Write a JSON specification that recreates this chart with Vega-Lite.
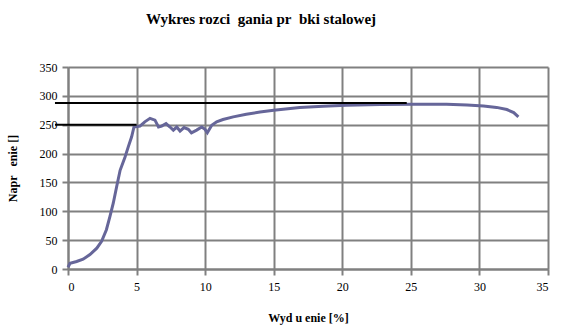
{
  "$schema": "https://vega.github.io/schema/vega-lite/v6.json",
  "width": 480,
  "height": 202,
  "autosize": {"type": "none"},
  "padding": {"left": 68, "top": 67, "right": 23, "bottom": 65},
  "background": "white",
  "title": {
    "text": "Wykres rozci\u00a0\u00a0gania pr\u00a0\u00a0bki stalowej",
    "font": "Liberation Serif, Times New Roman, serif",
    "fontSize": 15,
    "fontWeight": "bold",
    "color": "black",
    "anchor": "middle",
    "frame": "group",
    "dx": -47,
    "offset": 34
  },
  "config": {
    "font": "Liberation Serif, Times New Roman, serif",
    "view": {"stroke": null},
    "axis": {
      "labelFont": "Liberation Serif, Times New Roman, serif",
      "labelFontSize": 12,
      "labelColor": "black",
      "titleFont": "Liberation Serif, Times New Roman, serif",
      "titleFontSize": 12,
      "titleFontWeight": "bold",
      "titleColor": "black",
      "gridColor": "#808080",
      "gridWidth": 2,
      "gridOpacity": 1,
      "domainColor": "#808080",
      "domainWidth": 2,
      "tickColor": "#808080",
      "tickWidth": 2,
      "tickSize": 6,
      "labelOverlap": false
    }
  },
  "datasets": {
    "curve": [
      {"i": 0, "x": 0.0, "y": 3},
      {"i": 1, "x": 0.15, "y": 10},
      {"i": 2, "x": 0.63, "y": 13},
      {"i": 3, "x": 1.1, "y": 17},
      {"i": 4, "x": 1.6, "y": 25},
      {"i": 5, "x": 2.1, "y": 36},
      {"i": 6, "x": 2.45, "y": 48},
      {"i": 7, "x": 2.8, "y": 68},
      {"i": 8, "x": 3.06, "y": 91},
      {"i": 9, "x": 3.3, "y": 114},
      {"i": 10, "x": 3.55, "y": 143},
      {"i": 11, "x": 3.8, "y": 171},
      {"i": 12, "x": 4.16, "y": 194},
      {"i": 13, "x": 4.4, "y": 212},
      {"i": 14, "x": 4.64, "y": 229},
      {"i": 15, "x": 4.81, "y": 246},
      {"i": 16, "x": 5.25, "y": 247.5},
      {"i": 17, "x": 5.6, "y": 255},
      {"i": 18, "x": 5.98, "y": 261},
      {"i": 19, "x": 6.34, "y": 258},
      {"i": 20, "x": 6.6, "y": 246},
      {"i": 21, "x": 6.83, "y": 247.5},
      {"i": 22, "x": 7.15, "y": 252},
      {"i": 23, "x": 7.44, "y": 246},
      {"i": 24, "x": 7.68, "y": 240.6},
      {"i": 25, "x": 7.93, "y": 246},
      {"i": 26, "x": 8.17, "y": 239},
      {"i": 27, "x": 8.46, "y": 245},
      {"i": 28, "x": 8.77, "y": 242},
      {"i": 29, "x": 9.0, "y": 236},
      {"i": 30, "x": 9.38, "y": 240.6},
      {"i": 31, "x": 9.75, "y": 246},
      {"i": 32, "x": 9.99, "y": 242},
      {"i": 33, "x": 10.16, "y": 236},
      {"i": 34, "x": 10.48, "y": 249},
      {"i": 35, "x": 10.84, "y": 255},
      {"i": 36, "x": 11.3, "y": 259},
      {"i": 37, "x": 12.05, "y": 263.6},
      {"i": 38, "x": 13.0, "y": 268},
      {"i": 39, "x": 14.0, "y": 272},
      {"i": 40, "x": 15.0, "y": 275},
      {"i": 41, "x": 16.9, "y": 280},
      {"i": 42, "x": 18.6, "y": 282},
      {"i": 43, "x": 20.3, "y": 283.7},
      {"i": 44, "x": 22.75, "y": 285},
      {"i": 45, "x": 25.2, "y": 285.5},
      {"i": 46, "x": 27.6, "y": 285.5},
      {"i": 47, "x": 29.1, "y": 284.3},
      {"i": 48, "x": 30.3, "y": 282.6},
      {"i": 49, "x": 31.25, "y": 280},
      {"i": 50, "x": 32.0, "y": 276.3},
      {"i": 51, "x": 32.5, "y": 271},
      {"i": 52, "x": 32.84, "y": 263.6}
    ],
    "refs": [
      {"x1": -0.95, "x2": 24.7, "y": 287.5},
      {"x1": -0.95, "x2": 5.0, "y": 250}
    ]
  },
  "layer": [
    {
      "data": {"name": "curve"},
      "mark": {"type": "line", "color": "#666699", "strokeWidth": 3, "clip": false},
      "encoding": {
        "x": {
          "field": "x", "type": "quantitative",
          "scale": {"domain": [0, 35], "nice": false},
          "axis": {"values": [0, 5, 10, 15, 20, 25, 30, 35], "title": "Wyd u enie [%]", "titlePadding": 20, "labelPadding": 6}
        },
        "y": {
          "field": "y", "type": "quantitative",
          "scale": {"domain": [0, 350], "nice": false},
          "axis": {"values": [0, 50, 100, 150, 200, 250, 300, 350], "title": "Napr\u00a0\u00a0\u00a0enie []", "titlePadding": 20, "labelPadding": 5}
        },
        "order": {"field": "i", "type": "quantitative"}
      }
    },
    {
      "data": {"name": "refs"},
      "mark": {"type": "rule", "color": "black", "strokeWidth": 2, "clip": false},
      "encoding": {
        "x": {
          "field": "x1", "type": "quantitative",
          "axis": {"values": [0, 5, 10, 15, 20, 25, 30, 35], "title": "Wyd u enie [%]", "titlePadding": 20, "labelPadding": 6}
        },
        "x2": {"field": "x2"},
        "y": {
          "field": "y", "type": "quantitative",
          "axis": {"values": [0, 50, 100, 150, 200, 250, 300, 350], "title": "Napr\u00a0\u00a0\u00a0enie []", "titlePadding": 20, "labelPadding": 5}
        }
      }
    }
  ]
}
